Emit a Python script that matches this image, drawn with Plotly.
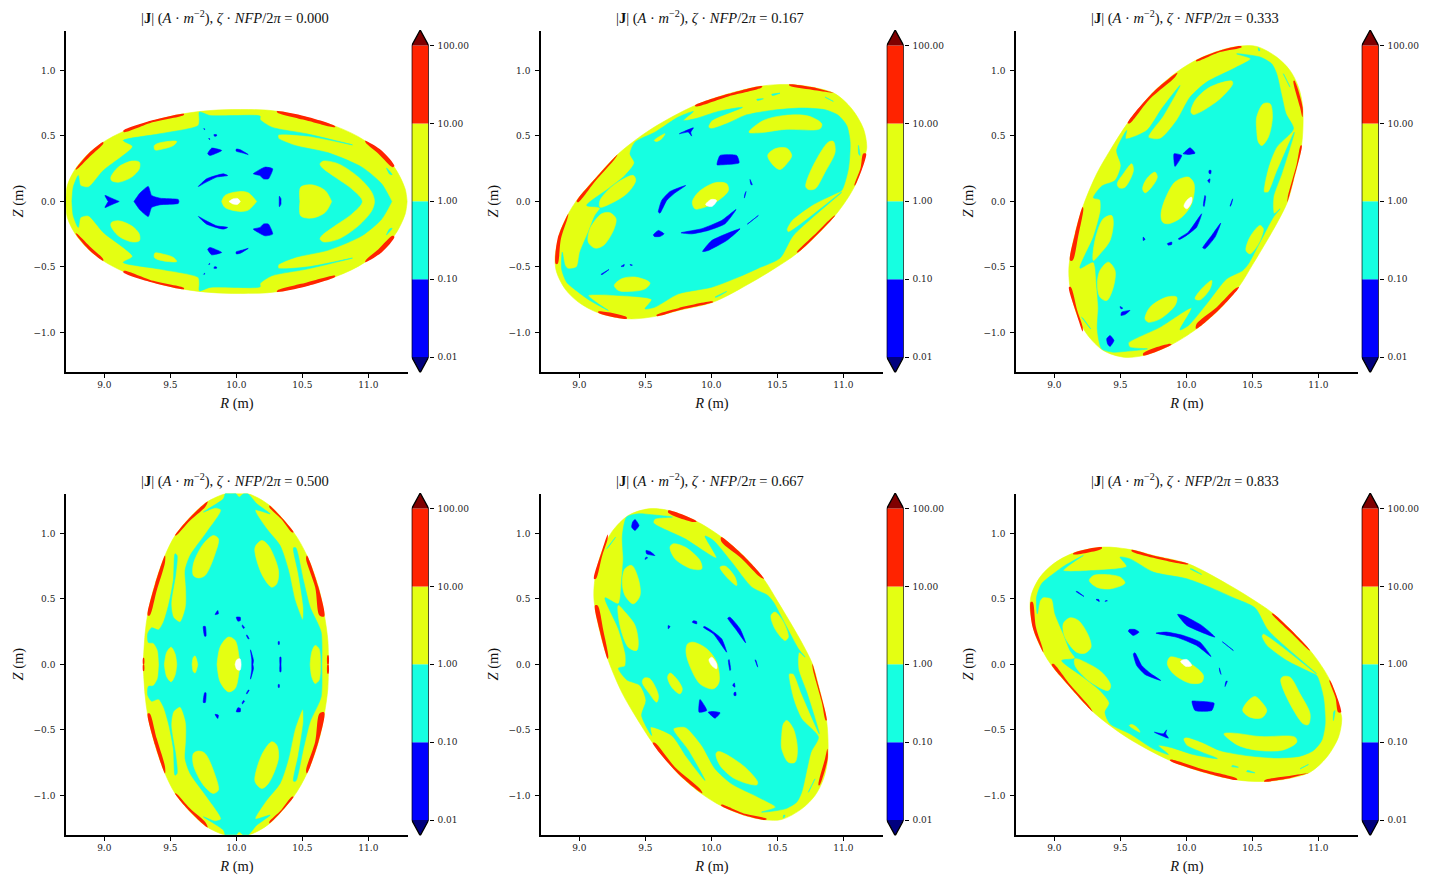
import numpy as np
import plotly.graph_objects as go

# Contour band edges and colours of |J|
LEVELS = [0.01, 0.1, 1.0, 10.0, 100.0]
LEVEL_LABELS = ["0.01", "0.10", "1.00", "10.00", "100.00"]
BAND_COLORS = ["#0000ff", "#16ffe1", "#e4ff12", "#ff2300"]
UNDER_COLOR = "#00007f"
OVER_COLOR = "#7f0000"
ZETA_LABELS = ["0.000", "0.167", "0.333", "0.500", "0.667", "0.833"]
R_TICKS = [9.0, 9.5, 10.0, 10.5, 11.0]
Z_TICKS = [-1.0, -0.5, 0.0, 0.5, 1.0]

# zeta = 0: up-down symmetric section, upper halves in (R, Z)
S0_EDGE = [(8.709,0),(8.72,.122),(8.778,.244),(8.879,.364),(8.992,.453),(9.144,.534),(9.371,.616),(9.598,.669),
           (9.80,.694),(10.03,.702),(10.306,.689),(10.748,.575),(10.975,.463),(11.19,.27),(11.278,.097),(11.293,0)]
S0_RED = [[(8.783,.244),(8.879,.364),(8.992,.453),(8.992,.44),(8.891,.343),(8.79,.244)],
          [(9.144,.54),(9.371,.621),(9.603,.669),(9.603,.661),(9.371,.606),(9.149,.529)],
          [(10.306,.689),(10.52,.651),(10.748,.575),(10.748,.567),(10.533,.618),(10.313,.677)],
          [(10.975,.463),(11.1,.389),(11.197,.27),(11.182,.262),(11.076,.364),(10.98,.448)]]
S0_CYAN = [(8.755,0),(8.765,.109),(8.803,.198),(8.82,.122),(8.879,.109),(8.992,.236),(9.214,.42),(9.144,.465),
           (9.42,.516),(9.712,.58),(9.72,.626),(9.72,.682),(9.80,.656),(9.99,.656),(10.18,.651),(10.18,.626),
           (10.268,.567),(10.533,.516),(10.879,.432),(10.546,.499),(10.318,.509),(10.318,.483),(10.445,.427),
           (10.697,.371),(10.95,.262),(11.10,.135),(11.177,0)]
S0_CYAN_SLIVER = [(11.138,.255),(11.18,.205),(11.16,.21)]
S0_YELLOW_OFF = [[(9.379,.427),(9.422,.448),(9.548,.458),(9.523,.427),(9.447,.402),(9.384,.394)],
                 [(9.05,.186),(9.106,.262),(9.207,.308),(9.265,.30),(9.265,.249),(9.207,.186),(9.106,.147),(9.055,.16)]]
S0_CHEVRON_OUTER = [(10.634,.287),(10.659,.308),(10.773,.287),(10.924,.186),(11.025,.071),(11.046,0)]
S0_CHEVRON_INNER = [(10.955,0),(10.874,.097),(10.748,.186),(10.647,.262)]
S0_YELLOW_AXIS = [[(9.889,0),(9.914,.046),(10.027,.076),(10.09,.066),(10.154,0)],
                  [(10.482,0),(10.487,.109),(10.571,.127),(10.672,.084),(10.722,0)]]
S0_WHITE = [(9.944,0),(9.977,.02),(10.01,.022),(10.03,0)]
S0_BLUE_AXIS = [[(9.225,0),(9.27,.064),(9.333,.115),(9.358,.046),(9.422,.025),(9.56,.015),(9.565,0)],
                [(9.03,0),(9.005,.046),(9.055,.025),(9.113,0)],
                [(10.325,0),(10.326,.04),(10.338,.02),(10.338,0)]]
S0_BLUE_OFF = [[(9.712,.114),(9.775,.173),(9.901,.211),(9.934,.198),(9.851,.186),(9.762,.142)],
               [(9.783,.364),(9.813,.407),(9.889,.389),(9.838,.364),(9.80,.351)],
               [(9.998,.385),(10.0,.4),(10.03,.395),(10.09,.358),(10.05,.37)],
               [(9.83,.51),(9.85,.51),(9.85,.5),(9.835,.498)],
               [(9.752,.555),(9.76,.555),(9.76,.548)],
               [(9.79,.48),(9.798,.48),(9.798,.472)],
               [(10.129,.211),(10.217,.262),(10.275,.249),(10.243,.173),(10.205,.173),(10.18,.198)]]

# zeta = 0.5: also up-down symmetric
S3_EDGE = [(9.294,0),(9.309,.234),(9.329,.387),(9.385,.616),(9.46,.832),(9.536,.984),(9.65,1.124),(9.776,1.239),
           (9.915,1.303),(10.003,1.315),(10.092,1.303),(10.243,1.221),(10.433,1.01),(10.534,.832),(10.622,.59),
           (10.667,.374),(10.693,.183),(10.698,0)]
S3_RED = [[(9.329,.374),(9.385,.616),(9.46,.832),(9.46,.781),(9.397,.565),(9.344,.374)],
          [(9.536,.984),(9.65,1.124),(9.783,1.244),(9.763,1.201),(9.65,1.099),(9.544,.984)],
          [(10.251,1.213),(10.433,1.01),(10.42,1.01),(10.34,1.11),(10.25,1.2)],
          [(10.534,.832),(10.622,.59),(10.665,.366),(10.63,.374),(10.597,.59),(10.528,.806)],
          [(9.294,.05),(9.301,.05),(9.301,0),(9.294,0)],
          [(10.69,.07),(10.698,.07),(10.698,0),(10.69,0)]]
S3_CYAN = [(9.415,0),(9.405,.107),(9.372,.163),(9.334,.168),(9.329,.234),(9.359,.28),(9.41,.264),(9.448,.323),
           (9.486,.45),(9.523,.641),(9.536,.845),(9.551,.832),(9.541,.692),(9.506,.463),(9.523,.361),(9.574,.323),
           (9.617,.437),(9.619,.59),(9.612,.718),(9.65,.832),(9.776,1.01),(9.885,1.18),(9.839,1.196),(9.751,1.163),
           (9.902,1.264),(9.92,1.308),(9.991,1.308),(10.021,1.277),(10.054,1.303),(10.087,1.303),(10.155,1.226),
           (10.256,1.15),(10.142,1.18),(10.23,1.035),(10.331,.908),(10.395,.718),(10.445,.489),(10.503,.341),
           (10.508,.437),(10.47,.692),(10.433,.89),(10.45,.89),(10.508,.641),(10.559,.437),(10.642,.247),(10.647,0)]
S3_YELLOW_OFF = [[(9.675,.679),(9.675,.768),(9.751,.921),(9.826,.984),(9.864,.959),(9.839,.845),(9.763,.679),(9.713,.661)],
                 [(10.142,.895),(10.193,.946),(10.243,.908),(10.319,.717),(10.306,.616),(10.268,.59),(10.205,.666),(10.155,.794)]]
S3_YELLOW_AXIS = [[(9.455,0),(9.473,.094),(9.506,.132),(9.536,.081),(9.549,0)],
                  [(9.665,0),(9.675,.056),(9.688,.064),(9.708,0)],
                  [(9.854,0),(9.877,.132),(9.94,.209),(9.991,.183),(10.021,.056),(10.028,0)],
                  [(10.559,0),(10.571,.094),(10.597,.145),(10.627,.119),(10.637,0)]]
S3_WHITE = [(9.991,0),(10.003,.036),(10.028,.043),(10.036,0)]
S3_BLUE_AXIS = [[(10.117,0),(10.117,.04),(10.107,.112),(10.13,.03),(10.125,0)],
                [(10.33,0),(10.33,.056),(10.338,.056),(10.338,0)]]
S3_BLUE_OFF = [[(9.839,.381),(9.859,.412),(9.864,.387)],
               [(9.75,.29),(9.765,.29),(9.77,.216),(9.76,.216)],
               [(10.0,.361),(10.03,.36),(10.03,.335),(10.012,.33)],
               [(10.046,.302),(10.062,.28),(10.055,.275),(10.045,.29)],
               [(10.079,.226),(10.097,.196),(10.09,.196),(10.077,.22)],
               [(10.318,.175),(10.325,.175),(10.325,.153),(10.318,.153)]]

# zeta = 0.167
S1_EDGE = [(8.821,-.387),(8.854,-.234),(8.917,-.094),(8.98,.008),(9.119,.173),(9.296,.364),(9.548,.555),(9.876,.733),
           (10.129,.822),(10.381,.881),(10.583,.893),(10.76,.873),(10.937,.822),(11.063,.708),(11.152,.555),(11.177,.415),
           (11.164,.351),(11.088,.122),(10.937,-.107),(10.659,-.387),(10.482,-.509),(10.306,-.616),(10.015,-.768),(9.75,-.832),
           (9.586,-.875),(9.371,-.896),(9.144,-.85),(8.993,-.768),(8.892,-.667),(8.828,-.539),(8.816,-.45)]
S1_RED = [[(8.821,-.476),(8.836,-.285),(8.917,-.094),(8.91,-.13),(8.861,-.285),(8.836,-.476)],
          [(8.98,0),(9.119,.173),(9.29,.359),(9.27,.326),(9.119,.153),(8.993,-.005)],
          [(9.876,.733),(10.129,.822),(10.386,.881),(10.381,.87),(10.129,.802),(9.881,.725)],
          [(10.588,.893),(10.76,.873),(10.932,.827),(10.912,.83),(10.76,.853),(10.596,.881)],
          [(11.172,.364),(11.088,.122),(11.083,.122),(11.13,.255),(11.15,.364)],
          [(10.937,-.107),(10.659,-.387),(10.647,-.387),(10.8,-.234),(10.932,-.107)],
          [(10.015,-.768),(9.75,-.832),(9.586,-.875),(9.586,-.865),(9.75,-.814),(10.01,-.763)],
          [(9.359,-.896),(9.144,-.85),(9.144,-.84),(9.359,-.883)]]
S1_CYAN = [[(8.871,-.387),(8.866,-.514),(8.904,-.616),(8.993,-.692),(9.081,-.756),(9.22,-.832),(9.144,-.781),(9.068,-.717),
            (9.296,-.717),(9.548,-.748),(9.498,-.819),(9.573,-.806),(9.75,-.705),(10.003,-.654),(10.205,-.577),(10.356,-.509),
            (10.52,-.432),(10.621,-.259),(10.987,.071),(10.583,-.234),(10.571,-.214),(10.609,-.145),(10.76,-.03),(10.937,.059),
            (10.987,.084),(11.038,.25),(11.051,.453),(11.025,.58),(10.962,.657),(10.861,.70),(10.684,.713),(10.457,.695),
            (10.255,.657),(10.116,.593),(9.998,.555),(9.977,.568),(10.003,.618),(10.235,.718),(10.053,.687),(9.876,.631),
            (9.788,.618),(9.864,.687),(9.75,.644),(9.573,.529),(9.422,.453),(9.384,.364),(9.417,.295),(9.346,.199),(9.22,.097),
            (9.056,-.03),(9.157,-.048),(9.119,-.107),(9.068,-.234),(9.005,-.387),(8.98,-.501),(8.917,-.514),(8.892,-.488)],
           [(10.861,.797),(10.924,.764),(10.874,.789)],
           [(11.114,.428),(11.126,.351),(11.116,.364)],
           [(10.028,-.73),(10.116,-.687),(10.04,-.73)],
           [(10.344,.779),(10.394,.784),(10.349,.771)],
           [(10.457,.817),(10.52,.827),(10.462,.809)]]
S1_YELLOW = [[(9.157,.008),(9.258,.122),(9.409,.199),(9.427,.16),(9.371,.071),(9.283,.008),(9.157,-.043)],
             [(9.568,.466),(9.649,.517),(9.624,.479),(9.586,.458)],
             [(10.285,.529),(10.394,.618),(10.558,.657),(10.735,.652),(10.836,.593),(10.823,.555),(10.558,.55),(10.356,.524)],
             [(10.427,.351),(10.482,.402),(10.571,.407),(10.609,.351),(10.571,.288),(10.52,.244),(10.47,.275)],
             [(10.715,.114),(10.76,.25),(10.886,.453),(10.924,.458),(10.937,.377),(10.861,.224),(10.785,.097),(10.735,.092)],
             [(9.068,-.31),(9.081,-.208),(9.169,-.094),(9.232,-.086),(9.278,-.132),(9.258,-.221),(9.182,-.336),(9.119,-.356)],
             [(9.265,-.641),(9.321,-.59),(9.422,-.577),(9.535,-.621),(9.498,-.667),(9.371,-.687),(9.296,-.679)],
             [(9.856,-.005),(9.902,.071),(10.028,.143),(10.116,.135),(10.129,.084),(10.053,.008),(9.952,-.043),(9.876,-.056)]]
S1_WHITE = [(9.957,-.025),(9.998,.015),(10.04,.008),(10.003,-.038)]
S1_BLUE = [[(9.599,-.081),(9.624,.008),(9.687,.076),(9.806,.122),(9.725,.066),(9.662,.008),(9.611,-.089)],
           [(9.561,-.254),(9.599,-.221),(9.642,-.247),(9.611,-.267),(9.568,-.267)],
           [(9.77,-.239),(9.927,-.208),(10.078,-.145),(10.187,-.061),(10.104,-.170),(9.977,-.221),(9.851,-.247)],
           [(9.934,-.382),(10.003,-.298),(10.217,-.209),(10.116,-.298),(9.977,-.374)],
           [(10.043,.28),(10.066,.351),(10.192,.351),(10.21,.295),(10.078,.28)],
           [(9.758,.517),(9.864,.562),(9.844,.529),(9.851,.499),(9.826,.529)],
           [(10.293,.168),(10.31,.127),(10.3,.13)],
           [(10.263,.076),(10.25,.026),(10.255,.06)],
           [(10.273,-.173),(10.356,-.107),(10.28,-.168)],
           [(9.164,-.557),(9.225,-.519),(9.174,-.557)],
           [(9.316,-.496),(9.341,-.481),(9.336,-.496)],
           [(9.384,-.481),(9.402,-.486),(9.39,-.488)]]

# zeta = 0.333
S2_EDGE = [(9.111,-.501),(9.157,-.247),(9.22,-.03),(9.321,.211),(9.422,.389),(9.561,.606),(9.75,.835),(9.927,.987),
           (10.078,1.081),(10.255,1.153),(10.407,1.186),(10.533,1.183),(10.684,1.102),(10.785,1.0),(10.849,.873),
           (10.881,.72),(10.874,.44),(10.811,.16),(10.765,-.005),(10.697,-.145),(10.604,-.31),(10.503,-.48),(10.399,-.649),
           (10.255,-.819),(10.078,-.972),(9.876,-1.099),(9.674,-1.176),(9.523,-1.188),(9.371,-1.137),(9.245,-1.01),
           (9.169,-.858),(9.119,-.654)]
S2_RED = [[(9.215,-.043),(9.157,-.247),(9.119,-.45),(9.139,-.45),(9.182,-.26),(9.22,-.056)],
          [(9.111,-.654),(9.169,-.858),(9.215,-.992),(9.215,-.959),(9.174,-.832),(9.126,-.654)],
          [(9.556,.598),(9.75,.835),(9.932,.982),(9.914,.949),(9.725,.784),(9.573,.598)],
          [(10.073,1.076),(10.255,1.153),(10.414,1.186),(10.419,1.178),(10.255,1.14),(10.078,1.069)],
          [(10.818,.924),(10.881,.72),(10.879,.644),(10.861,.72),(10.811,.919)],
          [(10.874,.427),(10.811,.16),(10.765,-.005),(10.768,.033),(10.836,.287),(10.866,.427)],
          [(10.399,-.654),(10.255,-.819),(10.073,-.972),(10.078,-.934),(10.23,-.807),(10.369,-.667)],
          [(9.889,-1.092),(9.674,-1.176),(9.674,-1.158),(9.864,-1.087)]]
S2_CYAN = [[(10.811,.555),(10.684,.415),(10.621,.262),(10.588,.071),(10.621,.071),(10.684,.224),(10.818,.529),(10.722,.211),
            (10.659,.033),(10.664,-.094),(10.71,-.056),(10.659,-.12),(10.558,-.31),(10.47,-.476),(10.427,-.527),(10.306,-.59),
            (10.154,-.781),(10.015,-.947),(9.952,-.98),(10.04,-.812),(9.801,-.959),(9.561,-1.081),(9.573,-1.112),(9.705,-1.125),
            (9.548,-1.143),(9.447,-1.15),(9.359,-1.125),(9.326,-.98),(9.333,-.807),(9.321,-.654),(9.296,-.463),(9.195,-.509),
            (9.296,-.272),(9.351,-.069),(9.346,.013),(9.296,.028),(9.359,.117),(9.46,.16),(9.505,.275),(9.472,.389),(9.548,.542),
            (9.54,.478),(9.70,.542),(9.813,.707),(9.952,.885),(9.826,.656),(9.712,.491),(9.801,.478),(9.927,.618),(10.028,.796),
            (10.154,.911),(10.356,1.013),(10.487,1.089),(10.381,1.127),(10.558,1.102),(10.646,1.051),(10.684,.975),(10.722,.809),(10.755,.669)],
           [(10.735,.975),(10.785,.873),(10.748,.949)],
           [(10.546,1.173),(10.558,1.153),(10.548,1.15)],
           [(9.207,-.883),(9.275,-.972),(9.22,-.896)]]
S2_YELLOW = [[(10.035,.682),(10.066,.771),(10.179,.873),(10.344,.919),(10.351,.898),(10.255,.784),(10.104,.682),(10.053,.664)],
             [(10.533,.542),(10.533,.644),(10.583,.746),(10.634,.746),(10.652,.644),(10.621,.491),(10.571,.427),(10.546,.453)],
             [(9.477,.135),(9.523,.211),(9.586,.288),(9.599,.237),(9.535,.109),(9.492,.104)],
             [(9.669,.097),(9.70,.173),(9.763,.224),(9.78,.186),(9.737,.109),(9.687,.066)],
             [(9.808,-.107),(9.826,-.018),(9.914,.148),(10.015,.186),(10.058,.135),(10.04,-.018),(9.965,-.12),(9.864,-.17),(9.821,-.158)],
             [(10.452,-.374),(10.482,-.272),(10.558,-.183),(10.583,-.209),(10.546,-.323),(10.482,-.4)],
             [(9.296,-.45),(9.308,-.298),(9.371,-.132),(9.434,-.107),(9.447,-.158),(9.422,-.298),(9.346,-.4)],
             [(9.326,-.629),(9.346,-.527),(9.409,-.463),(9.46,-.527),(9.447,-.654),(9.397,-.756),(9.346,-.73)],
             [(9.687,-.896),(9.725,-.807),(9.851,-.73),(9.927,-.73),(9.914,-.794),(9.801,-.896),(9.712,-.921)],
             [(10.066,-.743),(10.116,-.667),(10.192,-.603),(10.179,-.667),(10.104,-.751)]]
S2_WHITE = [(9.982,-.036),(10.003,.008),(10.04,.033),(10.04,-.005),(10.003,-.056)]
S2_BLUE = [[(9.397,-1.048),(9.422,-1.023),(9.452,-1.061),(9.422,-1.107),(9.404,-1.087)],
           [(9.505,-.87),(9.51,-.845),(9.573,-.832),(9.535,-.863)],
           [(9.498,-.802),(9.518,-.814),(9.505,-.819)],
           [(9.907,.364),(9.965,.351),(9.914,.267)],
           [(9.977,.364),(10.028,.41),(10.066,.369),(10.015,.359)],
           [(10.331,-.036),(10.351,.02),(10.338,-.03)],
           [(10.162,.16),(10.179,.173),(10.174,.142)],
           [(10.172,.237),(10.187,.237),(10.184,.211),(10.172,.216)],
           [(10.141,.046),(10.146,.038),(10.134,-.038),(10.129,-.03)],
           [(9.939,-.285),(10.015,-.234),(10.116,-.094),(10.078,-.196),(9.99,-.267),(9.947,-.29)],
           [(10.124,-.354),(10.192,-.26),(10.26,-.165),(10.217,-.272),(10.141,-.361)],
           [(9.856,-.323),(9.889,-.31),(9.889,-.328),(9.864,-.333)],
           [(9.674,-.272),(9.687,-.29),(9.674,-.298)]]


def flip(poly):
    """Reflect a polygon through Z = 0."""
    return [(r, -z) for r, z in poly]


def whole(half):
    """Close an upper-half outline that starts and ends on the midplane."""
    return half + flip(half)[::-1]


def twin(polys):
    return polys + [flip(p) for p in polys]


def chevron(outer, inner):
    """One closed band across the midplane from its outer and inner upper edges."""
    return outer + flip(outer)[::-1][1:] + flip(inner)[::-1] + inner[1:]


def symmetric_section(edge, red, cyan, yellow_axis, yellow_off, blue_axis, blue_off, white,
                      extra_cyan=(), extra_yellow=()):
    return {
        "edge": [whole(edge)],
        "red": twin(red),
        "cyan": [whole(cyan)] + twin(list(extra_cyan)),
        "yellow": [whole(p) for p in yellow_axis] + twin(yellow_off) + list(extra_yellow),
        "blue": [whole(p) for p in blue_axis] + twin(blue_off),
        "white": [whole(white)],
    }


def tilted_section(edge, red, cyan, yellow, blue, white):
    return {"edge": [edge], "red": red, "cyan": cyan, "yellow": yellow, "blue": blue, "white": [white]}


def mirrored(section):
    # stellarator symmetry: the section at 1 - zeta is the Z reflection
    return {k: [flip(p) for p in v] for k, v in section.items()}


SEC_0 = symmetric_section(S0_EDGE, S0_RED, S0_CYAN, S0_YELLOW_AXIS, S0_YELLOW_OFF, S0_BLUE_AXIS, S0_BLUE_OFF,
                          S0_WHITE, [S0_CYAN_SLIVER], [chevron(S0_CHEVRON_OUTER, S0_CHEVRON_INNER)])
SEC_1 = tilted_section(S1_EDGE, S1_RED, S1_CYAN, S1_YELLOW, S1_BLUE, S1_WHITE)
SEC_2 = tilted_section(S2_EDGE, S2_RED, S2_CYAN, S2_YELLOW, S2_BLUE, S2_WHITE)
SEC_3 = symmetric_section(S3_EDGE, S3_RED, S3_CYAN, S3_YELLOW_AXIS, S3_YELLOW_OFF, S3_BLUE_AXIS, S3_BLUE_OFF, S3_WHITE)
SECTIONS = [SEC_0, SEC_1, SEC_2, SEC_3, mirrored(SEC_2), mirrored(SEC_1)]

W, H = 1430, 886
TICK_FONT = dict(family="DejaVu Serif", size=9, color="#222222")
LABEL_FONT = dict(family="Liberation Serif", size=14.5, color="#111111")
TITLE_FONT = dict(family="Liberation Serif", size=14.5, color="#111111")


def dom_x(a, b):
    return [a / W, b / W]


def dom_y(top, bottom):
    return [1 - bottom / H, 1 - top / H]


def polygons_xy(polys):
    xs, ys = [], []
    for p in polys:
        closed = list(p) + [p[0]]
        xs += [q[0] for q in closed] + [None]
        ys += [q[1] for q in closed] + [None]
    return xs, ys


def add_layer(fig, polys, color, xa, ya, smoothing=0.9, width=0.6):
    xs, ys = polygons_xy(polys)
    fig.add_trace(go.Scatter(x=xs, y=ys, mode="lines", fill="toself", fillcolor=color,
                             line=dict(color=color, width=width, shape="spline", smoothing=smoothing),
                             hoverinfo="skip", showlegend=False, xaxis=xa, yaxis=ya))


fig = go.Figure()
log_levels = np.log10(LEVELS)
annotations = []
layout_axes = {}
for i, section in enumerate(SECTIONS):
    col, row = i % 3, i // 3
    left = 66 + 475 * col
    top = 30.5 + 463 * row
    n = 2 * i + 1
    xa, ya = f"x{n}", f"y{n}"
    cxa, cya = f"x{n + 1}", f"y{n + 1}"

    add_layer(fig, section["edge"], BAND_COLORS[2], xa, ya)
    add_layer(fig, section["red"], BAND_COLORS[3], xa, ya, width=0)
    add_layer(fig, section["cyan"], BAND_COLORS[1], xa, ya, smoothing=0.7)
    add_layer(fig, section["yellow"], BAND_COLORS[2], xa, ya)
    add_layer(fig, section["blue"], BAND_COLORS[0], xa, ya, smoothing=0.5)
    add_layer(fig, section["white"], "#ffffff", xa, ya)

    axis_common = dict(showgrid=False, zeroline=False, showline=True, linecolor="black", linewidth=1.5,
                       ticks="outside", ticklen=4, tickwidth=1, tickcolor="black", tickfont=TICK_FONT,
                       tickformat=".1f")
    layout_axes[f"xaxis{n}"] = dict(axis_common, domain=dom_x(left, left + 342), range=[8.71, 11.30],
                                    tickvals=R_TICKS, anchor=ya,
                                    title=dict(text="<i>R</i> (m)", font=LABEL_FONT, standoff=9))
    layout_axes[f"yaxis{n}"] = dict(axis_common, domain=dom_y(top, top + 341.3), range=[-1.30, 1.305],
                                    tickvals=Z_TICKS, anchor=xa, ticklabelstandoff=3,
                                    title=dict(text="<i>Z</i> (m)", font=LABEL_FONT, standoff=7))

    # colour bar with triangular under/over extensions
    bar_left = 411.7 + 475 * col
    bar_top = 30 + 463 * row
    for lo, hi, color in zip(log_levels[:-1], log_levels[1:], BAND_COLORS):
        fig.add_trace(go.Scatter(x=[0, 1, 1, 0, 0], y=[lo, lo, hi, hi, lo], mode="lines", fill="toself",
                                 fillcolor=color, line=dict(width=0), hoverinfo="skip", showlegend=False,
                                 xaxis=cxa, yaxis=cya))
    tip = 2.2
    bottom, ceiling = log_levels[0], log_levels[-1]
    for base, end, color in [(ceiling, tip, OVER_COLOR), (bottom, -tip, UNDER_COLOR)]:
        fig.add_trace(go.Scatter(x=[0, 0.5, 1, 0], y=[base, end, base, base], mode="lines", fill="toself",
                                 fillcolor=color, line=dict(width=0), hoverinfo="skip", showlegend=False,
                                 xaxis=cxa, yaxis=cya))
    fig.add_trace(go.Scatter(x=[0, 0.5, 1, 1, 0.5, 0, 0], y=[ceiling, tip, ceiling, bottom, -tip, bottom, ceiling],
                             mode="lines", line=dict(color="black", width=1.3), hoverinfo="skip", showlegend=False,
                             cliponaxis=False, xaxis=cxa, yaxis=cya))
    layout_axes[f"xaxis{n + 1}"] = dict(domain=dom_x(bar_left, bar_left + 17), range=[0, 1], visible=False,
                                        anchor=cya, fixedrange=True)
    layout_axes[f"yaxis{n + 1}"] = dict(domain=dom_y(bar_top, bar_top + 342.6), range=[-2.2, 2.2], side="right", anchor=cxa,
                                        showgrid=False, zeroline=False, showline=False, ticks="outside", ticklen=4,
                                        tickwidth=1, tickcolor="black", tickvals=list(log_levels), ticklabelstandoff=2,
                                        ticktext=LEVEL_LABELS, tickfont=TICK_FONT)

    annotations.append(dict(
        xref="paper", yref="paper", x=(left + 169) / W, y=1 - (top - 13.5) / H, showarrow=False,
        xanchor="center", yanchor="middle", font=TITLE_FONT,
        text=f"|<b>J</b>| (<i>A</i> · <i>m</i><sup>−2</sup>), <i>ζ</i> · <i>NFP</i>/2<i>π</i> = {ZETA_LABELS[i]}"))

fig.update_layout(width=W, height=H, margin=dict(l=0, r=0, t=0, b=0), paper_bgcolor="white", plot_bgcolor="white",
                  showlegend=False, annotations=annotations, **layout_axes)
fig.write_html("out.html")
